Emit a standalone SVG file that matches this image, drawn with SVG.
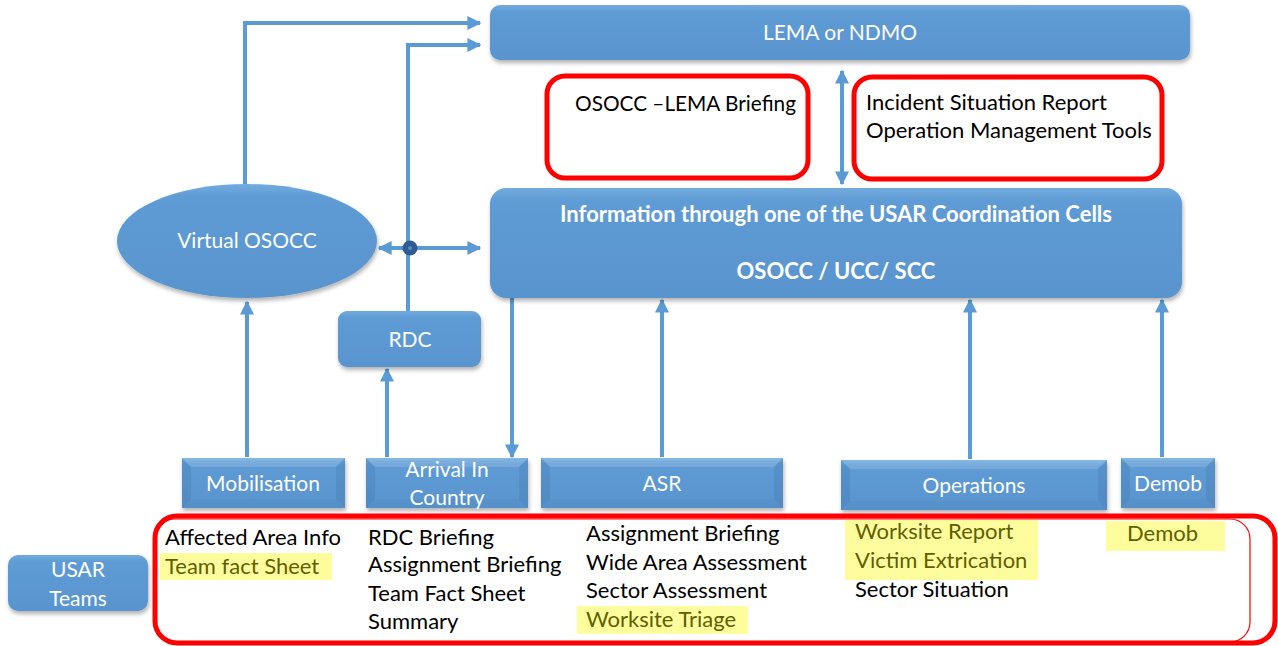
<svg xmlns="http://www.w3.org/2000/svg" width="1278" height="646" viewBox="0 0 1278 646">
<defs>
<style>
.box{fill:url(#g);filter:url(#sh)}
.wt{fill:#fff;font-family:Lato,"Noto Sans",sans-serif;font-size:21px}
.wb{fill:#fff;font-family:Lato,"Noto Sans",sans-serif;font-size:22px;font-weight:bold}
.bt{fill:#000;font-family:Lato,"Noto Sans",sans-serif;font-size:22px}
.ht{fill:#5F5F00;font-family:Lato,"Noto Sans",sans-serif;font-size:22px}
.hl{fill:#FDFD9E}
.red{fill:#fff;stroke:#FF0000;stroke-width:5}
.con{fill:none;stroke:#5B9BD5;stroke-width:4}
.bvl{fill:#fff;opacity:.15}
.bvd{fill:#1F4E79;opacity:.12}
.bvb{fill:#1F4E79;opacity:.05}
</style>
<linearGradient id="g" x1="0" y1="0" x2="0" y2="1">
<stop offset="0" stop-color="#72ABDF"/>
<stop offset="0.12" stop-color="#5E9BD4"/>
<stop offset="1" stop-color="#5994CE"/>
</linearGradient>
<filter id="sh" x="-10%" y="-10%" width="120%" height="130%">
<feDropShadow dx="1" dy="3" stdDeviation="2" flood-color="#000" flood-opacity="0.3"/>
</filter>
<marker id="ah" viewBox="0 0 10 10" refX="9" refY="5" markerWidth="14" markerHeight="14" markerUnits="userSpaceOnUse" orient="auto-start-reverse">
<path d="M0,0 L10,5 L0,10 z" fill="#5B9BD5"/>
</marker>
</defs>
<rect width="1278" height="646" fill="#fff"/>

<g id="connectors">
<path class="con" d="M245,184 V23 H480" marker-end="url(#ah)"/>
<path class="con" d="M408,311 V45 H480" marker-end="url(#ah)"/>
<path class="con" d="M379,248 H480" marker-start="url(#ah)" marker-end="url(#ah)"/>
<path class="con" d="M842,71 V184" marker-start="url(#ah)" marker-end="url(#ah)"/>
<path class="con" d="M247,457 V302" marker-end="url(#ah)"/>
<path class="con" d="M387,457 V369" marker-end="url(#ah)"/>
<path class="con" d="M512,298 V457" marker-end="url(#ah)"/>
<path class="con" d="M662,457 V300" marker-end="url(#ah)"/>
<path class="con" d="M970,459 V300" marker-end="url(#ah)"/>
<path class="con" d="M1162,457 V300" marker-end="url(#ah)"/>
<circle cx="410" cy="248" r="7.5" fill="#2E5C94"/>
<circle cx="410" cy="248" r="2" fill="#5B8BC4"/>
</g>

<g id="lema">
<rect class="box" x="490" y="5" width="700" height="55" rx="10"/>
<text class="wt" x="840" y="40" text-anchor="middle" font-size="20">LEMA or NDMO</text>
</g>

<g id="briefing">
<rect class="red" x="547" y="76" width="261" height="102" rx="18"/>
<text class="bt" x="575" y="111" textLength="221" lengthAdjust="spacingAndGlyphs">OSOCC –LEMA Briefing</text>
</g>

<g id="reports">
<rect class="red" x="854" y="77" width="308" height="102" rx="18"/>
<text class="bt" x="866" y="110">Incident Situation Report</text>
<text class="bt" x="866" y="138">Operation Management Tools</text>
</g>

<g id="info">
<rect class="box" x="490" y="188" width="692" height="110" rx="16"/>
<text class="wb" x="836" y="222" text-anchor="middle">Information through one of the USAR Coordination Cells</text>
<text class="wb" x="836" y="279" text-anchor="middle">OSOCC / UCC/ SCC</text>
</g>

<g id="virtual-osocc">
<ellipse class="box" cx="247" cy="241" rx="130" ry="57"/>
<text class="wt" x="247" y="248" text-anchor="middle">Virtual OSOCC</text>
</g>

<g id="rdc">
<rect class="box" x="338" y="311" width="143" height="56" rx="9"/>
<text class="wt" x="410" y="347" text-anchor="middle">RDC</text>
</g>

<g id="mobilisation">
<rect class="box" x="182" y="458" width="163" height="50"/>
<polygon class="bvl" points="182,458 345,458 336,467 191,467"/>
<polygon class="bvb" points="182,508 345,508 336,499 191,499"/>
<polygon class="bvd" points="182,458 191,467 191,499 182,508"/>
<polygon class="bvd" points="345,458 336,467 336,499 345,508"/>
<text class="wt" x="263" y="491" text-anchor="middle" font-size="22">Mobilisation</text>
</g>

<g id="arrival">
<rect class="box" x="366" y="458" width="162" height="50"/>
<polygon class="bvl" points="366,458 528,458 519,467 375,467"/>
<polygon class="bvb" points="366,508 528,508 519,499 375,499"/>
<polygon class="bvd" points="366,458 375,467 375,499 366,508"/>
<polygon class="bvd" points="528,458 519,467 519,499 528,508"/>
<text class="wt" x="447" y="477" text-anchor="middle">Arrival In</text>
<text class="wt" x="447" y="505" text-anchor="middle">Country</text>
</g>

<g id="asr">
<rect class="box" x="541" y="458" width="242" height="50"/>
<polygon class="bvl" points="541,458 783,458 774,467 550,467"/>
<polygon class="bvb" points="541,508 783,508 774,499 550,499"/>
<polygon class="bvd" points="541,458 550,467 550,499 541,508"/>
<polygon class="bvd" points="783,458 774,467 774,499 783,508"/>
<text class="wt" x="662" y="491" text-anchor="middle">ASR</text>
</g>

<g id="operations">
<rect class="box" x="841" y="460" width="266" height="50"/>
<polygon class="bvl" points="841,460 1107,460 1098,469 850,469"/>
<polygon class="bvb" points="841,510 1107,510 1098,501 850,501"/>
<polygon class="bvd" points="841,460 850,469 850,501 841,510"/>
<polygon class="bvd" points="1107,460 1098,469 1098,501 1107,510"/>
<text class="wt" x="974" y="493" text-anchor="middle">Operations</text>
</g>

<g id="demob">
<rect class="box" x="1121" y="458" width="94" height="50"/>
<polygon class="bvl" points="1121,458 1215,458 1206,467 1130,467"/>
<polygon class="bvb" points="1121,508 1215,508 1206,499 1130,499"/>
<polygon class="bvd" points="1121,458 1130,467 1130,499 1121,508"/>
<polygon class="bvd" points="1215,458 1206,467 1206,499 1215,508"/>
<text class="wt" x="1168" y="491" text-anchor="middle">Demob</text>
</g>

<g id="usar-teams">
<rect class="box" x="8" y="555" width="140" height="56" rx="10"/>
<text class="wt" x="78" y="577" text-anchor="middle">USAR</text>
<text class="wt" x="78" y="606" text-anchor="middle">Teams</text>
</g>

<g id="deliverables">
<rect class="red" x="155" y="516" width="1120" height="127" rx="22"/>
<rect x="155" y="519" width="1095" height="123" rx="20" fill="none" stroke="#FF0000" stroke-width="1.2"/>
<rect class="hl" x="160" y="553" width="172" height="27"/>
<rect class="hl" x="577" y="606" width="171" height="28"/>
<rect class="hl" x="845" y="520" width="193" height="60"/>
<rect class="hl" x="1106" y="521" width="119" height="30"/>
<text class="bt" x="165" y="545">Affected Area Info</text>
<text class="ht" x="165" y="574">Team fact Sheet</text>
<text class="bt" x="368" y="545">RDC Briefing</text>
<text class="bt" x="368" y="572">Assignment Briefing</text>
<text class="bt" x="368" y="601">Team Fact Sheet</text>
<text class="bt" x="368" y="629">Summary</text>
<text class="bt" x="586" y="541">Assignment Briefing</text>
<text class="bt" x="586" y="570">Wide Area Assessment</text>
<text class="bt" x="586" y="598">Sector Assessment</text>
<text class="ht" x="586" y="627">Worksite Triage</text>
<text class="ht" x="855" y="539">Worksite Report</text>
<text class="ht" x="855" y="568">Victim Extrication</text>
<text class="bt" x="855" y="597">Sector Situation</text>
<text class="ht" x="1127" y="541">Demob</text>
</g>
</svg>
